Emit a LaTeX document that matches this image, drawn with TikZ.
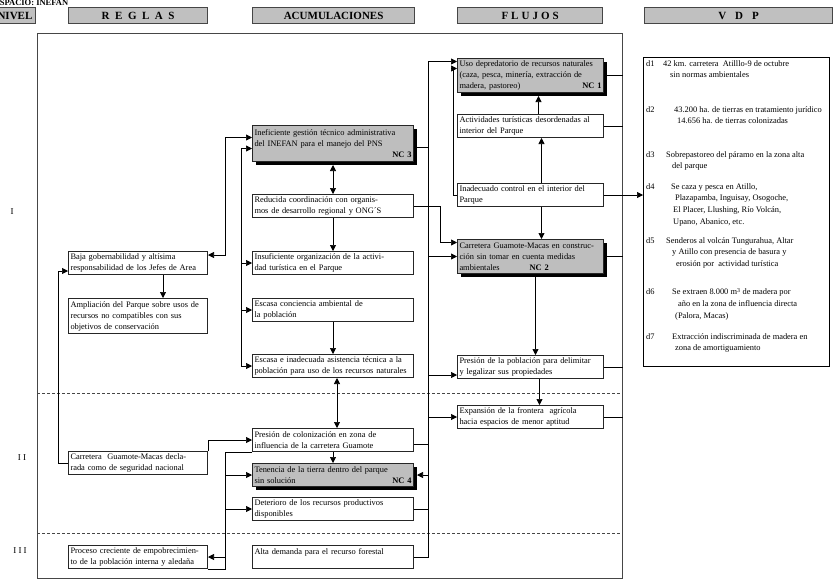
\documentclass[tikz,border=0pt]{standalone}
\usepackage{fontspec}
\setmainfont{Liberation Serif}
\usetikzlibrary{arrows.meta, shadows, calc}

\definecolor{hdrgray}{RGB}{192,192,192}
\definecolor{ncgray}{RGB}{190,190,190}
\definecolor{linegray}{RGB}{70,70,70}

\begin{document}
\begin{tikzpicture}[
    x=1pt, y=-1pt,
    hdr/.style={draw=linegray, line width=1.2pt, fill=hdrgray, minimum height=16pt, inner sep=0pt, anchor=north west, font=\fontsize{11}{11}\selectfont\bfseries},
    caja/.style={draw=black!85, line width=1pt, fill=white, anchor=north west, align=left, inner xsep=2pt, inner ysep=1.5pt, minimum height=23pt, font=\fontsize{8.4}{11}\selectfont},
    regbox/.style={caja, text width=135pt},
    acubox/.style={caja, text width=157pt},
    flubox/.style={caja, text width=142pt},
    ncbox/.style={fill=ncgray, drop shadow={shadow xshift=3pt, shadow yshift=-3pt, fill=black, opacity=1}},
    dtxt/.style={anchor=north west, align=left, inner sep=0pt, font=\fontsize{8.4}{11.8}\selectfont},
    lvl/.style={font=\fontsize{9}{9}\selectfont},
    ln/.style={line width=0.7pt},
    arr/.style={-{Triangle[length=6pt,width=6pt]}, line width=0.7pt},
    darr/.style={{Triangle[length=6pt,width=6pt]}-{Triangle[length=6pt,width=6pt]}, line width=0.7pt},
]
    \useasboundingbox (0,0) rectangle (834,581);

    % titulo y cabeceras
    \node[anchor=west, inner sep=0pt, font=\fontsize{8.5}{8.5}\selectfont\bfseries] (espacio) at (-6,3) {ESPACIO: INEFAN};
    \node[hdr, anchor=north east, text width=64pt, align=right, inner xsep=3pt] (hnivel) at (36,7) {NIVEL};
    \node[hdr, minimum width=139pt] (hreglas) at (68,7) {R\enspace E\enspace G\enspace L\enspace A\enspace S};
    \node[hdr, minimum width=162pt] (hacum) at (252,7) {ACUMULACIONES};
    \node[hdr, minimum width=145pt] (hflujos) at (457,7) {F\hspace{3pt}L\hspace{3pt}U\hspace{3pt}J\hspace{3pt}O\hspace{3pt}S};
    \node[hdr, minimum width=188pt] (hvdp) at (644,7) {V\hspace{9pt}D\hspace{9pt}P};

    % marco y niveles
    \node[draw=linegray, line width=1.3pt, minimum width=585pt, minimum height=545pt, inner sep=0pt, anchor=north west] (marco) at (37,33) {};
    \draw[dashed, dash pattern=on 3pt off 2pt, linegray] (marco.west |- 0,393) -- (marco.east |- 0,393);
    \draw[dashed, dash pattern=on 3pt off 2pt, linegray] (marco.west |- 0,533) -- (marco.east |- 0,533);
    \node[lvl] (niv1) at (12,212) {I};
    \node[lvl] (niv2) at (22,458) {I\ I};
    \node[lvl] (niv3) at (20,551) {I\ I\ I};

    % reglas
    \node[regbox] (baja) at (68,251) {Baja gobernabilidad y altísima\\responsabilidad de los Jefes de Area};
    \node[regbox, minimum height=35pt] (ampl) at (68,298) {Ampliación del Parque sobre usos de\\recursos no compatibles con sus\\objetivos de conservación};
    \node[regbox] (carr) at (68,451) {Carretera\ \ Guamote-Macas decla-\\rada como de seguridad nacional};
    \node[regbox] (proc) at (68,545) {Proceso creciente de empobrecimien-\\to de la población interna y aledaña};

    % acumulaciones
    \node[acubox, ncbox, minimum height=36pt] (nc3) at (252,125) {Ineficiente gestión técnico administrativa\\del INEFAN para el manejo del PNS\\\mbox{}\hfill\textbf{NC 3}\hspace*{20pt}};
    \node[acubox] (reduc) at (252,194) {Reducida coordinación con organis-\\mos de desarrollo regional y ONG´S};
    \node[acubox] (insuf) at (252,251) {Insuficiente organización de la activi-\\dad turística en el Parque};
    \node[acubox] (escon) at (252,298) {Escasa conciencia ambiental de\\la población};
    \node[acubox] (esinad) at (252,354) {Escasa e inadecuada asistencia técnica a la\\población para uso de los recursos naturales};
    \node[acubox] (presc) at (252,428) {Presión de colonización en zona de\\influencia de la carretera Guamote};
    \node[acubox, ncbox] (nc4) at (252,463) {Tenencia de la tierra dentro del parque\\sin solución\hfill\textbf{NC 4}\hspace*{16pt}};
    \node[acubox] (deter) at (252,497) {Deterioro de los recursos productivos\\disponibles};
    \node[acubox] (alta) at (252,545) {Alta demanda para el recurso forestal\\\mbox{}};

    % flujos
    \node[flubox, ncbox, minimum height=34pt] (nc1) at (457,58) {Uso depredatorio de recursos naturales\\(caza, pesca, minería, extracción de\\madera, pastoreo)\hfill\textbf{NC 1}\hspace*{13pt}};
    \node[flubox] (activ) at (457,114) {Actividades turísticas desordenadas al\\interior del Parque};
    \node[flubox] (inadec) at (457,183) {Inadecuado control en el interior del\\Parque};
    \node[flubox, ncbox, minimum height=34pt] (nc2) at (457,239) {Carretera Guamote-Macas en construc-\\ción sin tomar en cuenta medidas\\ambientales\hspace{30pt}\textbf{NC 2}};
    \node[flubox] (prespob) at (457,355) {Presión de la población para delimitar\\y legalizar sus propiedades};
    \node[flubox] (expan) at (457,405) {Expansión de la frontera\ \ agrícola\\hacia espacios de menor aptitud};

    % vdp
    \node[draw=black, line width=1.3pt, minimum width=186pt, minimum height=309pt, inner sep=0pt, anchor=north west] (vdpbox) at (643,57) {};
    \node[dtxt] (d1) at (646,60) {\makebox[17pt][l]{d1}42 km. carretera\ \ Atilllo-9 de octubre\\\hspace*{24pt}sin normas ambientales};
    \node[dtxt] (d2) at (646,106) {\makebox[28pt][l]{d2}43.200 ha. de tierras en tratamiento jurídico\\\hspace*{31pt}14.656 ha. de tierras colonizadas};
    \node[dtxt] (d3) at (646,151) {\makebox[20pt][l]{d3}Sobrepastoreo del páramo en la zona alta\\\hspace*{26pt}del parque};
    \node[dtxt] (d4) at (646,183) {\makebox[25pt][l]{d4}Se caza y pesca en Atillo,\\\hspace*{29pt}Plazapamba, Inguisay, Osogoche,\\\hspace*{27pt}El Placer, Llushing, Río Volcán,\\\hspace*{27pt}Upano, Abanico, etc.};
    \node[dtxt] (d5) at (646,237) {\makebox[20pt][l]{d5}Senderos al volcán Tungurahua, Altar\\\hspace*{26pt}y Atillo con presencia de basura y\\\hspace*{30pt}erosión por\ \ actividad turística};
    \node[dtxt] (d6) at (646,288) {\makebox[26pt][l]{d6}Se extraen 8.000 m\textsuperscript{3} de madera por\\\hspace*{32pt}año en la zona de influencia directa\\\hspace*{29pt}(Palora, Macas)};
    \node[dtxt] (d7) at (646,333) {\makebox[26pt][l]{d7}Extracción indiscriminada de madera en\\\hspace*{29pt}zona de amortiguamiento};

    % ejes de conexion
    \coordinate (busL) at (58,0);
    \coordinate (busA) at (225,0);
    \coordinate (busB) at (241,0);
    \coordinate (busD) at (428,0);
    \coordinate (busE) at (440,0);
    \coordinate (busF) at (453,0);

    % lado izquierdo
    \coordinate (bajaR) at ([yshift=8pt]baja.east);
    \coordinate (bajaL) at ([yshift=-8pt]baja.west);
    \coordinate (nc3L) at ([yshift=6pt]nc3.west);
    \coordinate (nc3Lb) at ([yshift=-5pt]nc3.west);
    \draw[darr] (nc3L) -| (bajaR -| busA) -- (bajaR);
    \draw[arr] (esinad.west -| busB) |- (nc3Lb);
    \draw[arr] (insuf.west -| busB) -- (insuf.west);
    \draw[arr] (escon.west -| busB) -- (escon.west);
    \draw[arr] (esinad.west -| busB) -- (esinad.west);
    \draw[arr] ([xshift=25pt]baja.south) -- ([xshift=25pt]ampl.north);
    \draw[arr] (carr.west) -- (carr.west -| busL) |- (bajaL);
    \draw[arr] (carr.north east) |- (presc.west);

    % columna acumulaciones
    \draw[darr] ([yshift=-3pt]nc3.south) -- (reduc.north);
    \draw[arr] (reduc.south) -- (insuf.north);
    \draw[arr] (escon.south) -- (esinad.north);
    \draw[darr] ([xshift=4pt]esinad.south) -- ([xshift=4pt]presc.north);
    \draw[arr] (presc.south) -- (nc4.north);
    \draw[ln] (presc.south west) -| (proc.south east -| busA) -- (proc.south east);
    \draw[arr] (nc4.west -| busA) -- (nc4.west);
    \draw[arr] (deter.west -| busA) -- (deter.west);
    \draw[arr] (proc.east -| busA) -- (proc.east);

    % colector central
    \coordinate (nc1a) at ([yshift=14pt]nc1.west);
    \coordinate (nc1b) at ([yshift=7pt]nc1.west);
    \coordinate (nc2a) at ([yshift=14pt]nc2.west);
    \coordinate (nc3R) at ([yshift=-4pt]nc3.east);
    \coordinate (prescR) at ([yshift=-4pt]presc.east);
    \coordinate (nc4R) at ([xshift=3pt]nc4.east);
    \coordinate (ppL) at ([yshift=-8pt]prespob.west);
    \draw[arr] (alta.east) -| (nc1a -| busD) -- (nc1a);
    \draw[ln] (nc3R) -- (nc3R -| busD);
    \draw[ln] (prescR) -- (prescR -| busD);
    \draw[ln] (deter.east) -- (deter.east -| busD);
    \draw[arr] (nc2.west -| busD) -- (nc2.west);
    \draw[arr] (ppL -| busD) -- (ppL);
    \draw[arr] (expan.west -| busD) -- (expan.west);
    \draw[arr] (nc4R -| busD) -- (nc4R);
    \draw[arr] (reduc.east) -| (nc2a -| busE) -- (nc2a);
    \draw[arr] (inadec.west) -| (nc1b -| busF) -- (nc1b);

    % columna flujos
    \draw[arr] ([xshift=8pt]activ.north) -- ([xshift=8pt, yshift=-3pt]nc1.south);
    \draw[arr] ([xshift=11pt]inadec.north) -- ([xshift=11pt]activ.south);
    \draw[arr] ([xshift=11pt]inadec.south) -- ([xshift=11pt]nc2.north);
    \draw[arr] ([xshift=5pt, yshift=-3pt]nc2.south) -- ([xshift=5pt]prespob.north);
    \draw[arr] ([xshift=9pt]prespob.south) -- ([xshift=9pt]expan.north);
    \draw[ln] (nc1.east) -- (nc1.east -| marco.east);
    \draw[ln] (activ.east) -- (activ.east -| marco.east);
    \draw[ln] (nc2.east) -- (nc2.east -| marco.east);
    \draw[ln] (prespob.east) -- (prespob.east -| marco.east);
    \draw[ln] (expan.east) -- (expan.east -| marco.east);
    \draw[arr] (inadec.east) -- (inadec.east -| vdpbox.west);
\end{tikzpicture}
\end{document}
